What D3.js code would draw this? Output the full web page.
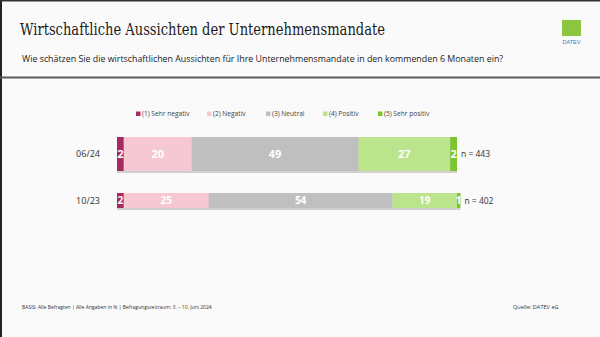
<!DOCTYPE html>
<html><head><meta charset="utf-8">
<script src="https://cdn.jsdelivr.net/npm/d3@7"></script>
<style>html,body{margin:0;padding:0;background:#fafafa;}svg{display:block;}</style>
</head><body>
<script>
const categories = ["06/24", "10/23"];
const seriesNames = ["(1) Sehr negativ", "(2) Negativ", "(3) Neutral", "(4) Positiv", "(5) Sehr positiv"];
const sehrNegativ = [2, 2];
const negativ = [20, 25];
const neutral = [49, 54];
const positiv = [27, 19];
const sehrPositiv = [2, 1];
const nValues = ["n = 443", "n = 402"];
const colors = ["#a62a5f", "#f6c8d3", "#bfbfbf", "#bbe48d", "#7dc52e"];

const W = 600, H = 337;
const svg = d3.select("body").append("svg").attr("width", W).attr("height", H);
svg.append("rect").attr("width", W).attr("height", H).attr("fill", "#fafafa");
// frame
svg.append("rect").attr("x", 0).attr("y", 0).attr("width", 2).attr("height", H).attr("fill", "#222");
svg.append("rect").attr("x", 0).attr("y", 0).attr("width", W).attr("height", 1.5).attr("fill", "#333");

svg.append("text").attr("x", 20).attr("y", 35).text("Wirtschaftliche Aussichten der Unternehmensmandate")
  .attr("font-family", "DejaVu Serif").attr("font-size", 16.5).attr("font-weight", "normal")
  .attr("textLength", 365).attr("lengthAdjust", "spacingAndGlyphs").attr("fill", "#1a1a1a");
svg.append("text").attr("x", 22).attr("y", 62).text("Wie schätzen Sie die wirtschaftlichen Aussichten für Ihre Unternehmensmandate in den kommenden 6 Monaten ein?")
  .attr("font-family", "Open Sans").attr("font-size", 8.85).attr("fill", "#222");
svg.append("rect").attr("x", 0).attr("y", 76.5).attr("width", W).attr("height", 2).attr("fill", "#5a5a5a");

// logo
svg.append("rect").attr("x", 562).attr("y", 20).attr("width", 19).attr("height", 16).attr("fill", "#8cc63f");
svg.append("text").attr("x", 571.5).attr("y", 44).attr("text-anchor", "middle").text("DATEV")
  .attr("font-family", "Liberation Sans Narrow, Liberation Sans").attr("font-size", 5.5).attr("fill", "#3a78b8");

// data table
const rows = categories.map((c, i) => ({cat: c, vals: [sehrNegativ[i], negativ[i], neutral[i], positiv[i], sehrPositiv[i]], n: nValues[i]}));
const x = d3.scaleLinear().domain([0, 100]).range([117, 457]);
const y = d3.scaleOrdinal().domain(categories).range([137, 193]);
const hgt = d3.scaleOrdinal().domain(categories).range([34, 15]);
const fs = d3.scaleOrdinal().domain(categories).range([11, 10]);

rows.forEach(r => {
  let cum = 0;
  const y0 = y(r.cat), h = hgt(r.cat);
  const g = svg.append("g");
  g.append("rect").attr("x", x(0)).attr("y", y0 + 1).attr("width", x(d3.sum(r.vals)) - x(0)).attr("height", h + 1).attr("fill", "#d0d0d0");
  r.vals.forEach((v, k) => {
    const x0 = x(cum), x1 = x(cum + v);
    g.append("rect").attr("x", x0).attr("y", y0).attr("width", x1 - x0).attr("height", h).attr("fill", colors[k]);
    g.append("text").attr("x", (x0 + x1) / 2).attr("y", y0 + h / 2).attr("dy", "0.36em")
      .attr("text-anchor", "middle").text(v)
      .attr("font-family", "Open Sans").attr("font-weight", "bold").attr("font-size", fs(r.cat)).attr("fill", "#fff");
    cum += v;
  });
  svg.append("text").attr("x", 100).attr("y", y0 + h / 2).attr("dy", "0.36em").attr("text-anchor", "end").text(r.cat)
    .attr("font-family", "Open Sans").attr("font-size", 9).attr("fill", "#333");
  svg.append("text").attr("x", x(cum) + 4).attr("y", y0 + h / 2).attr("dy", "0.36em").text(r.n)
    .attr("font-family", "Open Sans").attr("font-size", 8.5).attr("fill", "#333");
});

// legend
const legX = [136, 207, 266, 323, 378];
seriesNames.forEach((s, k) => {
  svg.append("rect").attr("x", legX[k]).attr("y", 111.5).attr("width", 4.5).attr("height", 4.5).attr("fill", colors[k]);
  svg.append("text").attr("x", legX[k] + 6).attr("y", 116.3).text(s)
    .attr("font-family", "Open Sans").attr("font-size", 6.6).attr("fill", "#444");
});

// footer
svg.append("text").attr("x", 22).attr("y", 309).text("BASIS: Alle Befragten | Alle Angaben in % | Befragungszeitraum: 3. – 10. Juni 2024")
  .attr("font-family", "Open Sans").attr("font-size", 5.0).attr("fill", "#333");
svg.append("text").attr("x", 513).attr("y", 309).text("Quelle: DATEV eG")
  .attr("font-family", "Open Sans").attr("font-size", 5.6).attr("fill", "#333");
</script>
</body></html>
